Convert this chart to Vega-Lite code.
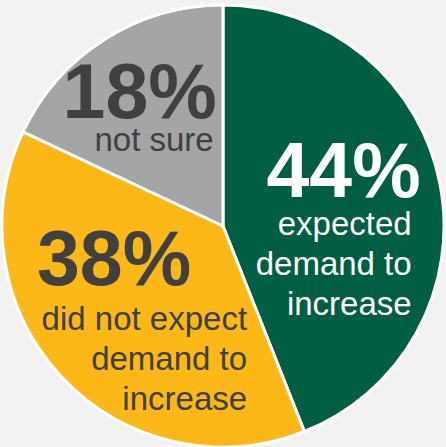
{
  "$schema": "https://vega.github.io/schema/vega-lite/v6.json",
  "width": 446,
  "height": 446,
  "autosize": "none",
  "padding": {"top": 3, "left": 0, "right": 0, "bottom": 0},
  "background": "#f2f2f2",
  "config": {"view": {"stroke": null}},
  "data": {
    "values": [
      {"answer": "expected", "rank": 1, "share": 44, "pct": "44%", "desc": "expected\ndemand to\nincrease"},
      {"answer": "did not expect", "rank": 2, "share": 38, "pct": "38%", "desc": "did not expect\ndemand to\nincrease"},
      {"answer": "not sure", "rank": 3, "share": 18, "pct": "18%", "desc": "not sure"}
    ]
  },
  "encoding": {
    "theta": {"field": "share", "type": "quantitative", "stack": true},
    "order": {"field": "rank", "type": "quantitative"},
    "detail": {"field": "answer", "type": "nominal"}
  },
  "layer": [
    {
      "mark": {"type": "arc", "radius": 221, "stroke": "white", "strokeWidth": 3},
      "encoding": {
        "color": {
          "field": "answer",
          "type": "nominal",
          "scale": {
            "domain": ["expected", "did not expect", "not sure"],
            "range": ["#005e42", "#fbb817", "#a5a5a5"]
          },
          "legend": null
        }
      }
    },
    {
      "mark": {"type": "text", "radius": 190, "align": "right", "baseline": "alphabetic", "dx": 11, "dy": 7, "font": "Liberation Sans", "fontWeight": "bold", "fontSize": 77, "color": "white"},
      "encoding": {
        "text": {"condition": {"test": "datum.answer == 'expected'", "field": "pct", "type": "nominal"}, "value": ""}
      }
    },
    {
      "mark": {"type": "text", "radius": 190, "align": "right", "baseline": "alphabetic", "dx": 2, "dy": 45, "font": "Liberation Sans", "fontSize": 33, "lineHeight": 40, "lineBreak": "\n", "color": "white"},
      "encoding": {
        "text": {"condition": {"test": "datum.answer == 'expected'", "field": "desc", "type": "nominal"}, "value": ""}
      }
    },
    {
      "mark": {"type": "text", "radius": 100, "align": "right", "baseline": "alphabetic", "dx": 41, "dy": -9, "font": "Liberation Sans", "fontWeight": "bold", "fontSize": 77, "color": "#404040"},
      "encoding": {
        "text": {"condition": {"test": "datum.answer == 'did not expect'", "field": "pct", "type": "nominal"}, "value": ""}
      }
    },
    {
      "mark": {"type": "text", "radius": 100, "align": "right", "baseline": "alphabetic", "dx": 97, "dy": 36, "font": "Liberation Sans", "fontSize": 33, "lineHeight": 40, "lineBreak": "\n", "color": "#404040"},
      "encoding": {
        "text": {"condition": {"test": "datum.answer == 'did not expect'", "field": "desc", "type": "nominal"}, "value": ""}
      }
    },
    {
      "mark": {"type": "text", "radius": 120, "align": "right", "baseline": "alphabetic", "dx": 58, "dy": -7, "font": "Liberation Sans", "fontWeight": "bold", "fontSize": 77, "color": "#404040"},
      "encoding": {
        "text": {"condition": {"test": "datum.answer == 'not sure'", "field": "pct", "type": "nominal"}, "value": ""}
      }
    },
    {
      "mark": {"type": "text", "radius": 120, "align": "right", "baseline": "alphabetic", "dx": 55, "dy": 26, "font": "Liberation Sans", "fontSize": 33, "lineHeight": 40, "lineBreak": "\n", "color": "#404040"},
      "encoding": {
        "text": {"condition": {"test": "datum.answer == 'not sure'", "field": "desc", "type": "nominal"}, "value": ""}
      }
    }
  ]
}
